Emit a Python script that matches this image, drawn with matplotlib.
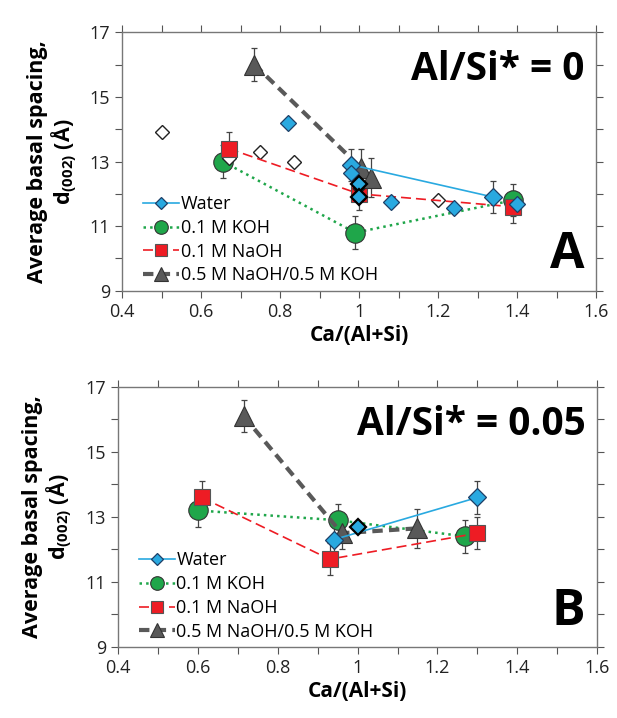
import matplotlib
matplotlib.use("Agg")
import matplotlib.pyplot as plt
from matplotlib.ticker import MultipleLocator, FixedLocator

plt.rcParams['font.family'] = ['Open Sans', 'DejaVu Sans']
plt.rcParams['mathtext.fontset'] = 'custom'
plt.rcParams['mathtext.it'] = 'Open Sans:bold:italic'
plt.rcParams['mathtext.rm'] = 'Open Sans:bold'

# ---- panel A (Al/Si* = 0) ----
a_water_x = [0.98, 1.34]
a_water_y = [12.9, 11.9]
a_water_err = [0.5, 0.5]
a_wpts_x = [0.82, 0.98, 1.08, 1.24, 1.40]
a_wpts_y = [14.2, 12.65, 11.75, 11.55, 11.7]
a_bold_x = [1.00, 1.00]
a_bold_y = [12.3, 11.9]
a_open_x = [0.50, 0.67, 0.75, 0.835, 1.20]
a_open_y = [13.9, 13.1, 13.3, 13.0, 11.8]
a_koh_x = [0.655, 0.99, 1.39]
a_koh_y = [13.0, 10.8, 11.8]
a_koh_err = [0.5, 0.5, 0.5]
a_naoh_x = [0.67, 1.00, 1.39]
a_naoh_y = [13.4, 12.0, 11.6]
a_naoh_err = [0.5, 0.5, 0.5]
a_mix_x = [0.735, 1.005, 1.03]
a_mix_y = [16.0, 12.8, 12.5]
a_mix_err = [0.5, 0.6, 0.6]

# ---- panel B (Al/Si* = 0.05) ----
b_water_x = [0.94, 1.30]
b_water_y = [12.3, 13.6]
b_water_err = [0.5, 0.5]
b_bold_x = [1.00]
b_bold_y = [12.7]
b_koh_x = [0.60, 0.95, 1.27]
b_koh_y = [13.2, 12.9, 12.4]
b_koh_err = [0.5, 0.5, 0.5]
b_naoh_x = [0.61, 0.93, 1.30]
b_naoh_y = [13.6, 11.7, 12.5]
b_naoh_err = [0.5, 0.5, 0.5]
b_mix_x = [0.715, 0.96, 1.15]
b_mix_y = [16.1, 12.5, 12.65]
b_mix_err = [0.5, 0.5, 0.6]

y_ticks = [9, 11, 13, 15, 17]

blue = '#29a9e0'
green = '#1fa64a'
red = '#ee1c24'
gray = '#595959'
ylab = 'Average basal spacing,\nd$_{\\mathit{(002)}}$ (Å)'


def panel(ax, wx, wy, we, bx, by, kx, ky, ke, nx, ny, ne, mx, my, me, title, letter):
    eb = dict(ecolor='#444444', elinewidth=0.9, capsize=2.5, capthick=0.9, zorder=3)
    ax.errorbar(mx, my, yerr=me, fmt='none', **eb)
    ax.errorbar(kx, ky, yerr=ke, fmt='none', **eb)
    ax.errorbar(nx, ny, yerr=ne, fmt='none', **eb)
    ax.errorbar(wx, wy, yerr=we, fmt='none', **eb)
    ax.plot(wx, wy, '-', color=blue, lw=1.2, marker='D', ms=9, mfc=blue, mec='#1d3f66',
            mew=0.9, label='Water', zorder=6)
    ax.plot(kx, ky, ':', color=green, lw=1.8, marker='o', ms=14, mfc=green, mec='#333333',
            mew=0.8, label='0.1 M KOH', zorder=4)
    ax.plot(nx, ny, '--', color=red, lw=1.2, dashes=(6, 3), marker='s', ms=12, mfc=red,
            mec='#555555', mew=0.8, label='0.1 M NaOH', zorder=5)
    ax.plot(mx, my, '--', color=gray, lw=3, dashes=(2.5, 1.5), marker='^', ms=15, mfc=gray,
            mec='#333333', mew=0.8, label='0.5 M NaOH/0.5 M KOH', zorder=5)
    ax.plot(bx, by, 'D', ms=8, mfc=blue, mec='black', mew=1.6, ls='none', zorder=7)
    ax.set_xlim(0.4, 1.6)
    ax.set_ylim(9, 17)
    ax.xaxis.set_major_locator(MultipleLocator(0.2))
    ax.xaxis.set_minor_locator(MultipleLocator(0.1))
    ax.yaxis.set_major_locator(FixedLocator(y_ticks))
    ax.yaxis.set_minor_locator(MultipleLocator(1))
    ax.xaxis.set_major_formatter(plt.FuncFormatter(lambda v, p: ('%g' % round(v, 1))))
    ax.tick_params(which='both', direction='out', top=True, right=True, color='#555555',
                   labelsize=13, labelcolor='#222222', length=5, width=0.8)
    for s in ax.spines.values():
        s.set_color('#777777')
        s.set_linewidth(1.0)
    ax.set_xlabel('Ca/(Al+Si)', fontsize=15, fontweight='bold', labelpad=3)
    ax.set_ylabel(ylab, fontsize=15.5, fontweight='bold', linespacing=1.05, labelpad=8)
    ax.text(0.975, 0.93, title, transform=ax.transAxes, ha='right', va='top',
            fontsize=28, fontweight='bold')
    ax.text(0.975, 0.04, letter, transform=ax.transAxes, ha='right', va='bottom',
            fontsize=36, fontweight='bold')
    ax.legend(loc='lower left', bbox_to_anchor=(0.03, 0.0), frameon=False, fontsize=13,
              handlelength=2.0, handletextpad=0.1, labelspacing=0.32, borderaxespad=0.15,
              markerscale=0.7, borderpad=0.2)


fig = plt.figure(figsize=(6.17, 7.18), dpi=100)
ax1 = fig.add_axes([0.198, 0.595, 0.768, 0.36])
ax2 = fig.add_axes([0.191, 0.099, 0.777, 0.362])

panel(ax1, a_water_x, a_water_y, a_water_err, a_bold_x, a_bold_y,
      a_koh_x, a_koh_y, a_koh_err, a_naoh_x, a_naoh_y, a_naoh_err,
      a_mix_x, a_mix_y, a_mix_err, 'Al/Si* = 0', 'A')
ax1.plot(a_wpts_x, a_wpts_y, 'D', ms=8, mfc=blue, mec='#1d3f66', mew=0.9, ls='none', zorder=6)
ax1.plot(a_open_x, a_open_y, 'D', ms=7, mfc='white', mec='#222222', mew=1.0, ls='none', zorder=4)
ax1.plot([1.0], [12.0], 'x', ms=9, color='#222222', mew=1.5, zorder=6)

panel(ax2, b_water_x, b_water_y, b_water_err, b_bold_x, b_bold_y,
      b_koh_x, b_koh_y, b_koh_err, b_naoh_x, b_naoh_y, b_naoh_err,
      b_mix_x, b_mix_y, b_mix_err, 'Al/Si* = 0.05', 'B')

fig.savefig('out.png', dpi=100)
